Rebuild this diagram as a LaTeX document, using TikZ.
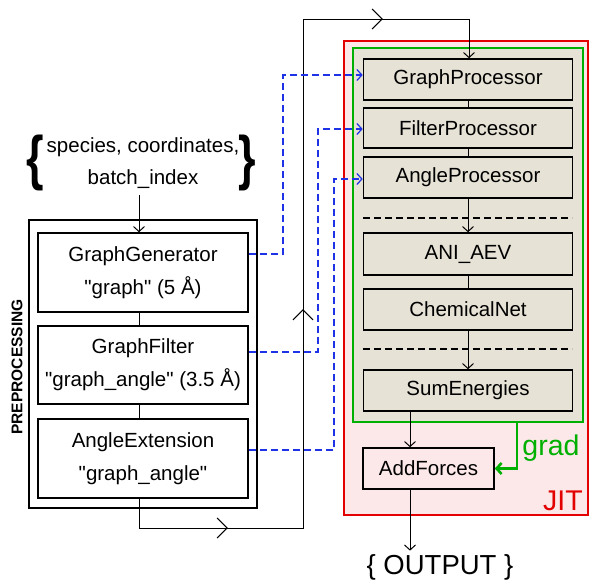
\documentclass[tikz,border=0pt]{standalone}
\usepackage{fontspec}
\setmainfont{Liberation Sans}
\usetikzlibrary{arrows.meta,decorations.markings}
\definecolor{jitred}{RGB}{226,0,0}
\definecolor{jitfill}{RGB}{252,232,232}
\definecolor{grgreen}{RGB}{0,176,0}
\definecolor{beige}{RGB}{230,226,213}
\definecolor{dblue}{RGB}{30,50,230}
\tikzset{
  box/.style={draw=black,line width=1.6pt,minimum width=209pt,minimum height=41pt,inner sep=0pt,align=center,font=\fontsize{20.5}{24}\selectfont},
  rbox/.style={box,fill=beige},
  lbox/.style={box,fill=white,minimum width=210pt,minimum height=79pt,font=\fontsize{20.5}{33}\selectfont},
  conn/.style={line width=1pt},
  arr/.style={conn,-{Straight Barb[length=5pt,width=11pt]}},
  bluel/.style={dblue,line width=1.2pt,dash pattern=on 7pt off 4pt,-{Straight Barb[length=5pt,width=11pt]}},
  bigtext/.style={font=\fontsize{28.5}{30}\selectfont},
}
\begin{document}
\begin{tikzpicture}[x=1pt,y=-1pt]
\useasboundingbox (0,0) rectangle (590,582);
% JIT box
\draw[jitred,fill=jitfill,line width=2.8pt] (344,41) rectangle (588,515);
\node[jitred,bigtext] (jit) at (563,501) {JIT};
% green box
\draw[grgreen,fill=beige,line width=2.8pt] (353,48) rectangle (583,422);
% right boxes
\node[rbox] (gp) at (468,79.5) {GraphProcessor};
\node[rbox,minimum height=40pt] (fp) at (468,128) {FilterProcessor};
\node[rbox] (ap) at (468,177.5) {AngleProcessor};
\node[rbox,minimum height=42pt] (aev) at (468,254) {ANI\_AEV};
\node[rbox] (cn) at (468,309.5) {ChemicalNet};
\node[rbox] (se) at (468,390.5) {SumEnergies};
\node[box,fill=jitfill,minimum width=131pt] (af) at (428.5,468.5) {AddForces};
\node[font=\fontsize{27.5}{30}\selectfont] (out) at (440,567) {\{ OUTPUT \}};
% dashed separators
\coordinate (s1l) at (363,218); \coordinate (s1r) at (572,218);
\coordinate (s2l) at (363,349); \coordinate (s2r) at (572,349);
\draw[line width=1.2pt,dash pattern=on 7pt off 4pt] (s1l) -- (s1r);
\draw[line width=1.2pt,dash pattern=on 7pt off 4pt] (s2l) -- (s2r);
% right connectors
\draw[conn] (gp.south) -- (fp.north);
\draw[conn] (fp.south) -- (ap.north);
\draw[arr] (ap.south) -- (aev.north);
\draw[conn] (aev.south) -- (cn.north);
\draw[arr] (cn.south) -- (se.north);
\draw[arr] (se.south -| 410,0) -- (af.north -| 410,0);
\draw[arr] (af.south -| 410,0) -- (out.north -| 410,0);
% grad
\coordinate (gstart) at (517,422);
\draw[grgreen,line width=2.6pt,-{Straight Barb[length=5pt,width=11pt]}] (gstart) |- (af.east);
\node[grgreen,bigtext] (grad) at (551,448) {grad};
% preprocessing
\draw[line width=1.5pt,fill=white] (29,220) rectangle (257,508);
\node[rotate=90,font=\fontsize{15.5}{18}\bfseries] (pre) at (17,367) {PREPROCESSING};
\node[lbox] (gg) at (143,272.5) {GraphGenerator\\\textquotedbl graph\textquotedbl\ (5 Å)};
\node[lbox,minimum height=78pt] (gf) at (143,365) {GraphFilter\\\textquotedbl graph\_angle\textquotedbl\ (3.5 Å)};
\node[lbox] (ae) at (143,458.5) {AngleExtension\\\textquotedbl graph\_angle\textquotedbl};
\draw[conn] (gg.south -| 139,0) -- (gf.north -| 139,0);
\draw[conn] (gf.south -| 139,0) -- (ae.north -| 139,0);
% input
\node[font=\fontsize{20.5}{32}\selectfont,align=center] (inp) at (143,163) {species, coordinates,\\batch\_index};
\node[font=\fontsize{60}{60}\bfseries,xscale=0.75] (lb) at (35,163) {\{};
\node[font=\fontsize{60}{60}\bfseries,xscale=0.75] (rb) at (247,163) {\}};
\coordinate (inpb) at (139,195);
\draw[arr] (inpb) -- (gg.north -| 139,0);
% main loop
\coordinate (c1) at (139,528);
\coordinate (c2) at (303,528);
\coordinate (c3) at (303,19);
\coordinate (c4) at (469,19);
\draw[arr,postaction={decorate,decoration={markings,
   mark=at position 118pt with {\arrow{Straight Barb[length=10pt,width=20pt]}},
   mark=at position 412pt with {\arrow{Straight Barb[length=10pt,width=20pt]}},
   mark=at position 782pt with {\arrow{Straight Barb[length=10pt,width=20pt]}}}}]
  (ae.south -| c1) -- (c1) -- (c2) -- (c3) -- (c4) -- (gp.north -| c4);
% blue dashed
\coordinate (b1) at (283,254); \coordinate (b1t) at (283,75);
\coordinate (b2) at (318,352); \coordinate (b2t) at (318,129);
\coordinate (b3) at (334,450); \coordinate (b3t) at (334,179);
\draw[bluel] (gg.east |- b1) -- (b1) -- (b1t) -- (gp.west |- b1t);
\draw[bluel] (gf.east |- b2) -- (b2) -- (b2t) -- (fp.west |- b2t);
\draw[bluel] (ae.east |- b3) -- (b3) -- (b3t) -- (ap.west |- b3t);
\end{tikzpicture}
\end{document}
